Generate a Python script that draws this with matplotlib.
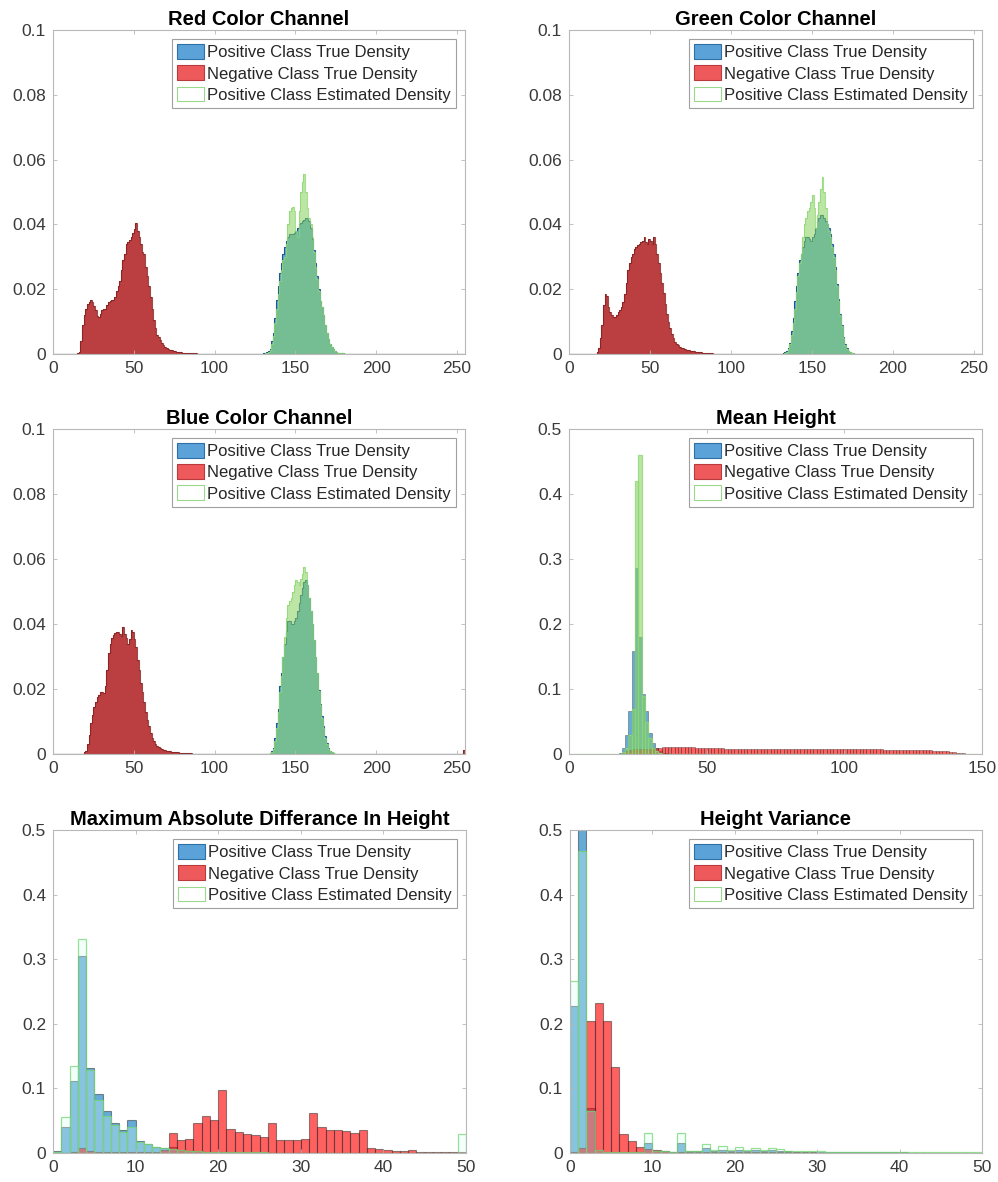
"""
Class-conditional density histograms (MATLAB style) for six features.
"""
import numpy as np
import matplotlib
matplotlib.use("Agg")
import matplotlib.pyplot as plt
from matplotlib.patches import Patch
from matplotlib.ticker import FuncFormatter

plt.rcParams["font.family"] = ["Liberation Sans", "DejaVu Sans"]

# ------------------------------------------------------------------------------
# Data (densities per bin). Each series = (first bin, values)
# ------------------------------------------------------------------------------
LABELS = ["Positive Class True Density",
          "Negative Class True Density",
          "Positive Class Estimated Density"]

# --- Red colour channel, bins of width 1 on [0, 255]
red_neg_start = 15
red_neg = [
    0.0002, 0.0005, 0.0040, 0.0090, 0.0120, 0.0140, 0.0155, 0.0160, 0.0167, 0.0160,
    0.0148, 0.0135, 0.0118, 0.0115, 0.0125, 0.0135, 0.0138, 0.0140, 0.0150, 0.0160,
    0.0165, 0.0166, 0.0167, 0.0175, 0.0195, 0.0210, 0.0225, 0.0260, 0.0290, 0.0310,
    0.0340, 0.0345, 0.0352, 0.0360, 0.0372, 0.0385, 0.0403, 0.0380, 0.0362, 0.0340,
    0.0315, 0.0310, 0.0270, 0.0240, 0.0210, 0.0177, 0.0140, 0.0105, 0.0080, 0.0060,
    0.0053, 0.0042, 0.0033, 0.0027, 0.0023, 0.0019, 0.0016, 0.0013, 0.0011, 0.0009,
    0.0008, 0.0007, 0.0006, 0.0005, 0.0005, 0.0004, 0.0004, 0.0003, 0.0003, 0.0003,
    0.0002, 0.0002, 0.0002, 0.0002, 0.0001, 0.0001, 0.0001, 0.0001,
]
red_pos_start = 130
red_pos = [
    0.0002, 0.0003, 0.0005, 0.0008, 0.0015, 0.0040, 0.0065, 0.0110, 0.0166, 0.0210,
    0.0250, 0.0280, 0.0310, 0.0330, 0.0350, 0.0360, 0.0370, 0.0370, 0.0370, 0.0375,
    0.0380, 0.0390, 0.0400, 0.0405, 0.0410, 0.0415, 0.0420, 0.0420, 0.0410, 0.0390,
    0.0355, 0.0320, 0.0280, 0.0240, 0.0200, 0.0165, 0.0146, 0.0120, 0.0090, 0.0064,
    0.0045, 0.0030, 0.0023, 0.0015, 0.0010, 0.0005, 0.0004, 0.0003, 0.0002, 0.0002,
    0.0001,
]
red_est_start = 130
red_est = [
    0.0001, 0.0002, 0.0003, 0.0006, 0.0012, 0.0030, 0.0055, 0.0095, 0.0140, 0.0185,
    0.0225, 0.0260, 0.0290, 0.0300, 0.0340, 0.0400, 0.0440, 0.0450, 0.0455, 0.0440,
    0.0380, 0.0360, 0.0440, 0.0500, 0.0530, 0.0555, 0.0500, 0.0450, 0.0420, 0.0400,
    0.0360, 0.0315, 0.0270, 0.0230, 0.0195, 0.0165, 0.0145, 0.0120, 0.0090, 0.0064,
    0.0045, 0.0030, 0.0023, 0.0015, 0.0010, 0.0005, 0.0004, 0.0003, 0.0002, 0.0002,
    0.0001,
]

# --- Green colour channel
grn_neg_start = 17
grn_neg = [
    0.0005, 0.0020, 0.0050, 0.0090, 0.0150, 0.0185, 0.0180, 0.0145,
    0.0130, 0.0120, 0.0115, 0.0115, 0.0120, 0.0130, 0.0135, 0.0145, 0.0160, 0.0185,
    0.0220, 0.0260, 0.0280, 0.0300, 0.0310, 0.0325, 0.0330, 0.0335, 0.0340, 0.0345,
    0.0350, 0.0360, 0.0345, 0.0340, 0.0356, 0.0350, 0.0340, 0.0360, 0.0340, 0.0310,
    0.0280, 0.0250, 0.0220, 0.0187, 0.0155, 0.0125, 0.0100, 0.0080, 0.0062, 0.0048,
    0.0038, 0.0032, 0.0028, 0.0023, 0.0020, 0.0017, 0.0015, 0.0013, 0.0012, 0.0011,
    0.0010, 0.0009, 0.0008, 0.0007, 0.0006, 0.0005, 0.0005, 0.0004, 0.0004, 0.0003,
    0.0003, 0.0002, 0.0002, 0.0002, 0.0001, 0.0001,
]
grn_pos_start = 132
grn_pos = [
    0.0002, 0.0005, 0.0010, 0.0020, 0.0035, 0.0070, 0.0110, 0.0165,
    0.0210, 0.0250, 0.0290, 0.0310, 0.0330, 0.0350, 0.0360, 0.0360, 0.0355, 0.0350,
    0.0360, 0.0370, 0.0390, 0.0410, 0.0420, 0.0430, 0.0430, 0.0420, 0.0410, 0.0400,
    0.0390, 0.0370, 0.0340, 0.0310, 0.0270, 0.0217, 0.0170, 0.0125, 0.0090, 0.0053,
    0.0030, 0.0017, 0.0010, 0.0005, 0.0004, 0.0002,
]
grn_est_start = 132
grn_est = [
    0.0001, 0.0003, 0.0007, 0.0015, 0.0030, 0.0060, 0.0095, 0.0140,
    0.0190, 0.0240, 0.0280, 0.0310, 0.0360, 0.0400, 0.0420, 0.0440, 0.0450, 0.0470,
    0.0490, 0.0450, 0.0390, 0.0430, 0.0470, 0.0510, 0.0545, 0.0500, 0.0450, 0.0400,
    0.0380, 0.0360, 0.0330, 0.0300, 0.0260, 0.0210, 0.0165, 0.0120, 0.0085, 0.0050,
    0.0028, 0.0016, 0.0009, 0.0005, 0.0003, 0.0002,
]

# --- Blue colour channel
blu_neg_start = 19
blu_neg = [
    0.0005, 0.0010, 0.0030, 0.0060, 0.0095, 0.0120, 0.0145, 0.0160, 0.0175, 0.0183,
    0.0190, 0.0192, 0.0187, 0.0210, 0.0260, 0.0310, 0.0340, 0.0356, 0.0365, 0.0371,
    0.0375, 0.0376, 0.0368, 0.0363, 0.0392, 0.0370, 0.0356, 0.0340, 0.0355, 0.0382,
    0.0375, 0.0355, 0.0330, 0.0290, 0.0260, 0.0220, 0.0190, 0.0160, 0.0130, 0.0105,
    0.0085, 0.0064, 0.0050, 0.0039, 0.0030, 0.0026, 0.0022, 0.0018, 0.0015, 0.0013,
    0.0011, 0.0010, 0.0009, 0.0008, 0.0007, 0.0006, 0.0006, 0.0005, 0.0005, 0.0004,
    0.0004, 0.0003, 0.0003, 0.0003, 0.0002, 0.0002, 0.0002, 0.0001,
]
blu_neg_last_start = 254
blu_neg_last = [0.0012]
blu_pos_start = 134
blu_pos = [
    0.0003, 0.0008, 0.0020, 0.0050, 0.0095, 0.0140, 0.0208, 0.0250, 0.0300, 0.0340,
    0.0380, 0.0410, 0.0410, 0.0400, 0.0400, 0.0410, 0.0420, 0.0440, 0.0465, 0.0490,
    0.0510, 0.0530, 0.0535, 0.0520, 0.0480, 0.0440, 0.0400, 0.0350, 0.0300, 0.0250,
    0.0197, 0.0155, 0.0116, 0.0085, 0.0054, 0.0035, 0.0018, 0.0010, 0.0006, 0.0003,
]
blu_est_start = 134
blu_est = [
    0.0002, 0.0006, 0.0015, 0.0040, 0.0080, 0.0130, 0.0190, 0.0240, 0.0300, 0.0360,
    0.0420, 0.0460, 0.0470, 0.0480, 0.0500, 0.0520, 0.0535, 0.0530, 0.0520, 0.0540,
    0.0555, 0.0575, 0.0560, 0.0520, 0.0480, 0.0440, 0.0400, 0.0350, 0.0300, 0.0250,
    0.0195, 0.0150, 0.0110, 0.0080, 0.0050, 0.0030, 0.0016, 0.0009, 0.0005, 0.0003,
]

# --- Mean height, bins of width 1.2 on [0, 150] (bin index)
mh_pos_start = 15
mh_pos = [0.002, 0.009, 0.030, 0.066, 0.158, 0.286, 0.180, 0.093, 0.066, 0.032,
          0.017, 0.009, 0.004, 0.002, 0.001]
mh_est_start = 16
mh_est = [0.003, 0.010, 0.030, 0.070, 0.420, 0.460, 0.090, 0.050, 0.025, 0.010,
          0.004, 0.002]
mh_neg_start = 16
mh_neg = [
    0.0020, 0.0040, 0.0060, 0.0070, 0.0070, 0.0070, 0.0070, 0.0070, 0.0080, 0.0090,
    0.0095, 0.0100, 0.0105, 0.0108, 0.0108, 0.0108, 0.0109, 0.0108, 0.0107, 0.0106,
    0.0105, 0.0103, 0.0100, 0.0097, 0.0095, 0.0093, 0.0090, 0.0088, 0.0087, 0.0086,
    0.0085, 0.0084, 0.0083, 0.0082, 0.0081, 0.0081, 0.0080, 0.0080, 0.0080, 0.0080,
    0.0080, 0.0080, 0.0080, 0.0080, 0.0080, 0.0080, 0.0080, 0.0080, 0.0080, 0.0080,
    0.0080, 0.0080, 0.0079, 0.0079, 0.0079, 0.0079, 0.0078, 0.0078, 0.0078, 0.0078,
    0.0078, 0.0077, 0.0077, 0.0077, 0.0077, 0.0077, 0.0076, 0.0076, 0.0075, 0.0075,
    0.0074, 0.0074, 0.0073, 0.0073, 0.0072, 0.0072, 0.0071, 0.0070, 0.0070, 0.0069,
    0.0068, 0.0067, 0.0066, 0.0065, 0.0064, 0.0063, 0.0062, 0.0061, 0.0060, 0.0059,
    0.0058, 0.0057, 0.0056, 0.0055, 0.0053, 0.0051, 0.0048, 0.0045, 0.0042, 0.0036,
    0.0030, 0.0022, 0.0015, 0.0010, 0.0006, 0.0003, 0.0001,
]

# --- Maximum absolute difference in height, bins of width 1 on [0, 50]
mad_pos = [
    0.003, 0.041, 0.112, 0.305, 0.132, 0.092, 0.065, 0.046, 0.035, 0.0505,
    0.018, 0.0145, 0.010, 0.0077, 0.010, 0.004, 0.003, 0.003, 0.002, 0.002,
    0.0015, 0.0015, 0.001, 0.001, 0.001, 0.0008, 0.0006, 0.0005, 0.0005, 0.0004,
    0.0004, 0.0003, 0.0003, 0.0003, 0.0002, 0.0002, 0.0002, 0.0002, 0.0001, 0.0001,
]
mad_neg = [
    0.0, 0.0, 0.001, 0.008, 0.003, 0.001, 0.001, 0.001, 0.001, 0.001,
    0.002, 0.002, 0.002, 0.005, 0.031, 0.0206, 0.021, 0.046, 0.057, 0.0505,
    0.098, 0.037, 0.032, 0.029, 0.028, 0.025, 0.047, 0.0206, 0.0196, 0.0206,
    0.022, 0.062, 0.041, 0.035, 0.035, 0.0335, 0.031, 0.036, 0.0077, 0.006,
    0.004, 0.0036, 0.003, 0.005, 0.002, 0.001, 0.001, 0.001, 0.002, 0.001,
]
mad_est = [
    0.002, 0.056, 0.135, 0.331, 0.128, 0.082, 0.057, 0.044, 0.033, 0.041,
    0.017, 0.014, 0.010, 0.0075, 0.006, 0.004, 0.003, 0.003, 0.002, 0.002,
    0.0015, 0.0015, 0.001, 0.001, 0.001, 0.0008, 0.0006, 0.0005, 0.0005, 0.0004,
    0.0004, 0.0003, 0.0003, 0.0003, 0.0002, 0.0002, 0.0002, 0.0002, 0.0001, 0.0001,
    0.0001, 0.0001, 0.0001, 0.0001, 0.0001, 0.0001, 0.0001, 0.0001, 0.0001, 0.030,
]

# --- Height variance, bins of width 1 on [0, 50]
hv_pos = [
    0.228, 0.560, 0.070, 0.005, 0.002, 0.002, 0.002, 0.002, 0.002, 0.0155,
    0.003, 0.003, 0.002, 0.0155, 0.003, 0.003, 0.007, 0.003, 0.005, 0.003,
    0.005, 0.003, 0.004, 0.003, 0.004, 0.003, 0.003, 0.002, 0.002, 0.002,
    0.002, 0.002, 0.0015, 0.0015, 0.0015, 0.0015, 0.001, 0.001, 0.001, 0.001,
    0.001, 0.0005, 0.0005, 0.0005, 0.0005, 0.0005, 0.0005, 0.0005, 0.0005, 0.0005,
]
hv_neg = [
    0.002, 0.008, 0.205, 0.232, 0.204, 0.133, 0.030, 0.018, 0.0093, 0.006,
    0.004, 0.003, 0.002, 0.002, 0.001, 0.001, 0.001, 0.001, 0.001, 0.001,
    0.001, 0.001, 0.001, 0.001, 0.001, 0.001, 0.001, 0.001, 0.001, 0.001,
    0.0005, 0.0005, 0.0005, 0.0005, 0.0005, 0.0005, 0.0005, 0.0005, 0.0005, 0.0005,
]
hv_est = [
    0.266, 0.468, 0.065, 0.004, 0.002, 0.002, 0.002, 0.002, 0.002, 0.031,
    0.003, 0.003, 0.002, 0.031, 0.003, 0.003, 0.014, 0.004, 0.0115, 0.004,
    0.0095, 0.004, 0.0085, 0.004, 0.007, 0.006, 0.003, 0.003, 0.003, 0.003,
    0.003, 0.002, 0.002, 0.002, 0.002, 0.002, 0.002, 0.0015, 0.0015, 0.0015,
    0.001, 0.001, 0.001, 0.001, 0.001, 0.001, 0.001, 0.001, 0.001, 0.001,
]

# ------------------------------------------------------------------------------
# Style
# ------------------------------------------------------------------------------
POS_FACE = (0.0, 0.447, 0.741, 0.6)
NEG_FACE = (1.0, 0.0, 0.0, 0.62)
EDGE_DARK = (0.15, 0.15, 0.15, 0.5)
EST_FACE = (0.85, 1.0, 0.95, 0.3)
EST_EDGE = (0.45, 0.85, 0.45, 0.75)
# dense (1-unit) bins render as solid areas in the original
FINE_POS = (0.0, 0.447, 0.741, 0.62)
FINE_POS_LINE = (0.10, 0.30, 0.55, 0.9)
FINE_NEG = (0.72, 0.20, 0.21, 0.95)
FINE_NEG_LINE = (0.50, 0.12, 0.12, 0.8)
FINE_EST = (0.53, 0.82, 0.36, 0.55)
FINE_EST_LINE = (0.55, 0.85, 0.45, 0.8)
AX_GRAY = "#b8b8b8"
TXT_GRAY = "#3a3a3a"


def expand(nbins, *segments):
    """Place (start, values) segments into a full-length bin array."""
    out = np.zeros(nbins)
    for start, vals in segments:
        out[start:start + len(vals)] = vals
    return out


def draw_fine(ax, edges, pos, neg, est):
    ax.stairs(pos, edges, fill=True, color=FINE_POS, linewidth=0)
    ax.stairs(pos, edges, color=FINE_POS_LINE, linewidth=0.8)
    ax.stairs(neg, edges, fill=True, color=FINE_NEG, linewidth=0)
    ax.stairs(neg, edges, color=FINE_NEG_LINE, linewidth=0.8)
    ax.stairs(est, edges, fill=True, color=FINE_EST, linewidth=0)
    ax.stairs(est, edges, color=FINE_EST_LINE, linewidth=0.8)


def draw_bars(ax, edges, pos, neg, est, est_face, est_edge, lw):
    left, width = edges[:-1], np.diff(edges)
    ax.bar(left, pos, width=width, align="edge", facecolor=POS_FACE,
           edgecolor=EDGE_DARK, linewidth=lw)
    ax.bar(left, neg, width=width, align="edge", facecolor=NEG_FACE,
           edgecolor=EDGE_DARK, linewidth=lw)
    ax.bar(left, est, width=width, align="edge", facecolor=est_face,
           edgecolor=est_edge, linewidth=0.9)


def style_panel(ax, title, xmax, ymax, xticks, yticks):
    ax.set_xlim(0, xmax)
    ax.set_ylim(0, ymax)
    ax.set_xticks(xticks)
    ax.set_yticks(yticks)
    ax.yaxis.set_major_formatter(FuncFormatter(lambda v, _: f"{v:g}"))
    ax.tick_params(direction="in", length=3, width=0.6, color=AX_GRAY,
                   labelsize=12.5, labelcolor=TXT_GRAY, top=True, right=True,
                   pad=5)
    for sp in ax.spines.values():
        sp.set_color(AX_GRAY)
        sp.set_linewidth(0.8)
    ax.set_title(title, fontsize=14.5, fontweight="bold", pad=3.5)

    handles = [Patch(facecolor="#5aa2d8", edgecolor="#2f6fa5", linewidth=0.8),
               Patch(facecolor="#ee5a5c", edgecolor="#b83a3c", linewidth=0.8),
               Patch(facecolor="white", edgecolor="#9ad88a", linewidth=0.8)]
    leg = ax.legend(handles, LABELS, loc="upper right", fontsize=12,
                    frameon=True, fancybox=False, framealpha=1,
                    edgecolor="#a0a0a0", borderpad=0.3, labelspacing=0.3,
                    handlelength=1.6, handleheight=1.0, handletextpad=0.2,
                    borderaxespad=0.55)
    leg.get_frame().set_linewidth(0.8)
    for t in leg.get_texts():
        t.set_color("#262626")


fig = plt.figure(figsize=(9.98, 11.82), dpi=100)
W, H = 998, 1182


def axes_at(left, top, right, bottom):
    return fig.add_axes([left / W, 1 - bottom / H, (right - left) / W, (bottom - top) / H])


color_xt = [0, 50, 100, 150, 200, 250]
color_yt = [0, 0.02, 0.04, 0.06, 0.08, 0.1]
tenth_yt = [0, 0.1, 0.2, 0.3, 0.4, 0.5]
color_edges = np.arange(257)

ax = axes_at(53, 30, 465, 354)
draw_fine(ax, color_edges,
          expand(256, (red_pos_start, red_pos)),
          expand(256, (red_neg_start, red_neg)),
          expand(256, (red_est_start, red_est)))
style_panel(ax, "Red Color Channel", 255, 0.1, color_xt, color_yt)

ax = axes_at(569, 30, 982, 354)
draw_fine(ax, color_edges,
          expand(256, (grn_pos_start, grn_pos)),
          expand(256, (grn_neg_start, grn_neg)),
          expand(256, (grn_est_start, grn_est)))
style_panel(ax, "Green Color Channel", 255, 0.1, color_xt, color_yt)

ax = axes_at(53, 429, 465, 754)
draw_fine(ax, color_edges,
          expand(256, (blu_pos_start, blu_pos)),
          expand(256, (blu_neg_start, blu_neg), (blu_neg_last_start, blu_neg_last)),
          expand(256, (blu_est_start, blu_est)))
style_panel(ax, "Blue Color Channel", 255, 0.1, color_xt, color_yt)

ax = axes_at(569, 429, 982, 754)
draw_bars(ax, np.arange(126) * 1.2,
          expand(125, (mh_pos_start, mh_pos)),
          expand(125, (mh_neg_start, mh_neg)),
          expand(125, (mh_est_start, mh_est)),
          FINE_EST, FINE_EST_LINE, 0.5)
style_panel(ax, "Mean Height", 150, 0.5, [0, 50, 100, 150], tenth_yt)

ax = axes_at(53, 830, 466, 1153)
draw_bars(ax, np.arange(51),
          expand(50, (0, mad_pos)), expand(50, (0, mad_neg)),
          expand(50, (0, mad_est)), EST_FACE, EST_EDGE, 0.8)
style_panel(ax, "Maximum Absolute Differance In Height", 50, 0.5,
            [0, 10, 20, 30, 40, 50], tenth_yt)

ax = axes_at(570, 830, 982, 1153)
draw_bars(ax, np.arange(51),
          expand(50, (0, hv_pos)), expand(50, (0, hv_neg)),
          expand(50, (0, hv_est)), EST_FACE, EST_EDGE, 0.8)
style_panel(ax, "Height Variance", 50, 0.5, [0, 10, 20, 30, 40, 50], tenth_yt)

fig.savefig("out.png", dpi=100)
